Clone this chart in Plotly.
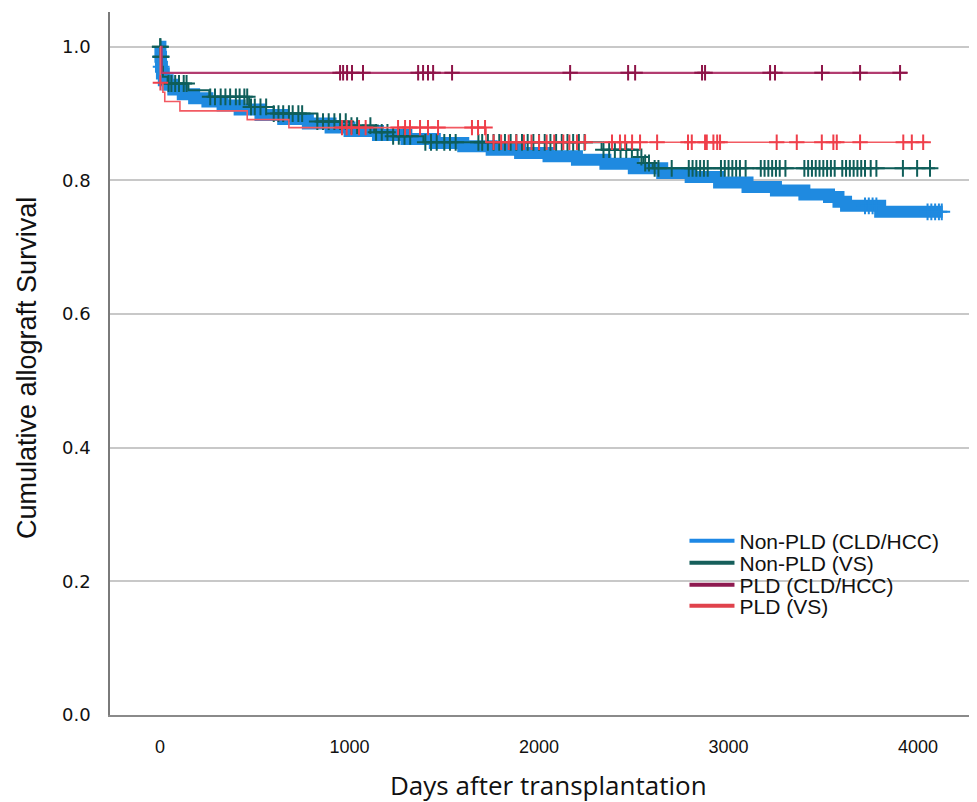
import numpy as np
import plotly.graph_objects as go

# ---------------- data ----------------
group_names = ["Non-PLD (CLD/HCC)", "Non-PLD (VS)", "PLD (CLD/HCC)", "PLD (VS)"]

# Non-PLD (CLD/HCC) – Kaplan-Meier steps
blue_t = [0, 2, 5, 10, 20, 40, 70, 120, 180, 250, 330, 420, 530, 650, 780, 900, 1000,
          1150, 1300, 1450, 1600, 1750, 1900, 2050, 2200, 2350, 2500, 2650, 2800, 2950,
          3100, 3250, 3400, 3530, 3580, 3620, 3800, 4130]
blue_s = [1.0, 0.985, 0.97, 0.96, 0.95, 0.943, 0.936, 0.929, 0.923, 0.918, 0.912, 0.906,
          0.898, 0.892, 0.885, 0.879, 0.874, 0.868, 0.862, 0.856, 0.851, 0.846, 0.841,
          0.836, 0.831, 0.825, 0.818, 0.811, 0.805, 0.797, 0.790, 0.785, 0.779, 0.775,
          0.768, 0.762, 0.753, 0.753]
blue_cens = [3, 6, 3720, 3740, 3760, 3780, 4050, 4070, 4090, 4110, 4125]

# Non-PLD (VS)
green_t = [0, 3, 8, 15, 40, 150, 260, 470, 600, 830, 1000, 1130, 1230, 1390, 2300,
           2330, 2520, 2550, 2600, 4090]
green_s = [1.0, 0.985, 0.97, 0.955, 0.945, 0.935, 0.925, 0.91, 0.90, 0.888, 0.882, 0.872,
           0.866, 0.857, 0.857, 0.846, 0.835, 0.826, 0.818, 0.818]
green_cens = [1, 2, 4, 6, 45, 60, 80, 100, 125, 140, 265, 290, 320, 345, 370, 400, 420,
              445, 460, 480, 500, 530, 560, 600, 625, 650, 680, 700, 730, 750, 830, 860,
              890, 920, 950, 980, 1010, 1040, 1110, 1140, 1170, 1200, 1230, 1260, 1290,
              1320, 1400, 1430, 1460, 1500, 1530, 1560, 1680, 1700, 1730, 1760, 1790,
              1820, 1850, 1880, 1910, 1940, 1970, 2000, 2030, 2060, 2090, 2120, 2150,
              2180, 2210, 2240, 2340, 2370, 2400, 2430, 2460, 2490, 2540, 2560, 2580,
              2610, 2630, 2700, 2790, 2810, 2830, 2850, 2870, 2890, 2960, 2980, 3000,
              3020, 3040, 3060, 3090, 3170, 3190, 3210, 3230, 3250, 3270, 3300, 3400,
              3420, 3440, 3460, 3480, 3500, 3520, 3540, 3560, 3600, 3620, 3640, 3660,
              3680, 3700, 3720, 3750, 3780, 3920, 3995, 4063]

# PLD (CLD/HCC)
maroon_t = [0, 8, 3942]
maroon_s = [1.0, 0.961, 0.961]
maroon_cens = [950, 966, 987, 1013, 1071, 1362, 1388, 1414, 1441, 1541, 2164, 2470, 2507,
               2860, 2876, 3219, 3245, 3493, 3694, 3905]

# PLD (VS)
red_t = [0, 1, 15, 25, 105, 460, 680, 1720, 4050]
red_s = [1.0, 0.946, 0.932, 0.918, 0.904, 0.891, 0.879, 0.857, 0.857]
red_cens = [2, 960, 985, 1010, 1050, 1085, 1256, 1293, 1319, 1372, 1414, 1467, 1646,
            1678, 1715, 1760, 1800, 1840, 1880, 1920, 1960, 2000, 2040, 2080, 2128, 2160,
            2200, 2243, 2385, 2427, 2454, 2491, 2533, 2623, 2786, 2806, 2876, 2885, 2920,
            2940, 2955, 3254, 3360, 3492, 3553, 3571, 3694, 3922, 3967, 4027]

x_ticks = [0, 1000, 2000, 3000, 4000]
y_ticks = [0.0, 0.2, 0.4, 0.6, 0.8, 1.0]
y_tick_text = ["0.0", "0.2", "0.4", "0.6", "0.8", "1.0"]
x_title = "Days after transplantation"
y_title = "Cumulative allograft Survival"

# ---------------- styles ----------------
line_cols = ["#1f8ae0", "#0f5e5a", "#b23c70", "#f25a62"]
mark_cols = ["#1f8ae0", "#0f5e5a", "#8e1549", "#ef3f4a"]
leg_cols = ["#1e88e5", "#165f5b", "#8e1a50", "#e0424c"]
line_w = [12, 2, 2.2, 1.6]
leg_rows = [0.2475, 0.2162, 0.1849, 0.155]
leg_ids = ["legend", "legend2", "legend3", "legend4"]

# page body has an 8 px margin: figure is shrunk so the plot lands where the reference has it
PAGE_OFF = 8
PLOT_L, PLOT_R, PLOT_T, PLOT_B = 110, 970, 12, 715   # plot area in screenshot pixels
FIG_W, FIG_H = 977 - PAGE_OFF, 802 - PAGE_OFF
PW, PH = PLOT_R - PLOT_L, PLOT_B - PLOT_T


def at(tt, ss, c):
    tt = np.asarray(tt)
    ss = np.asarray(ss)
    idx = np.searchsorted(tt, np.asarray(c), side="right") - 1
    return ss[idx]


fig = go.Figure()
series = [(blue_t, blue_s, blue_cens), (green_t, green_s, green_cens),
          (maroon_t, maroon_s, maroon_cens), (red_t, red_s, red_cens)]

for i, (t, s, c) in enumerate(series):
    fig.add_trace(go.Scatter(x=t, y=s, mode="lines", line=dict(color=line_cols[i], width=line_w[i], shape="hv"),
                             showlegend=False, hoverinfo="skip"))
    fig.add_trace(go.Scatter(x=c, y=at(t, s, c), mode="markers",
                             marker=dict(symbol="cross-thin", size=12 if i < 2 else 11,
                                         line=dict(color=mark_cols[i], width=2)),
                             showlegend=False, hoverinfo="skip"))

for i, name in enumerate(group_names):
    fig.add_trace(go.Scatter(x=[None], y=[None], mode="lines", name=name, legend=leg_ids[i],
                             line=dict(color=leg_cols[i], width=4)))

fig.add_shape(type="rect", xref="paper", yref="y", x0=(598 - PLOT_L) / PW, x1=1.0, y0=0.12, y1=0.28,
              fillcolor="white", line=dict(width=0), layer="between")

leg_common = dict(x=0.668, xanchor="left", yanchor="middle", bgcolor="rgba(255,255,255,0)",
                  font=dict(size=21, family="Liberation Sans, Arial", color="#111"), itemwidth=45)
legends = {}
for i, lid in enumerate(leg_ids):
    legends[lid] = dict(leg_common, y=leg_rows[i])

fig.update_layout(
    width=FIG_W, height=FIG_H,
    margin=dict(l=PLOT_L - PAGE_OFF, r=977 - PLOT_R, t=PLOT_T - PAGE_OFF, b=802 - PLOT_B),
    paper_bgcolor="white", plot_bgcolor="white",
    font=dict(family="Liberation Sans, Arial, sans-serif", color="#111111"),
    xaxis=dict(range=[-264, 4274], tickvals=x_ticks, ticktext=[str(v) for v in x_ticks],
               showgrid=False, zeroline=False, showline=True, linecolor="#8a8a8a", linewidth=1.5,
               ticks="", ticklabelstandoff=15, automargin=False,
               tickfont=dict(family="Liberation Sans, Arial", size=18, color="#111")),
    yaxis=dict(range=[0, 1.052], tickvals=y_ticks, ticktext=y_tick_text,
               showgrid=True, gridcolor="#c8c8c8", gridwidth=2, zeroline=False, automargin=False,
               showline=True, linecolor="#7a7a7a", linewidth=1.5, ticks="", ticklabelstandoff=14,
               tickfont=dict(family="DejaVu Sans, sans-serif", size=18, color="#111")),
    annotations=[
        dict(text=x_title, xref="paper", yref="paper", x=(548 - PLOT_L) / PW, y=-(785 - PLOT_B) / PH,
             xanchor="center", yanchor="middle", showarrow=False,
             font=dict(family="Open Sans, sans-serif", size=26, color="#111")),
        dict(text=y_title, xref="paper", yref="paper", x=(27 - PLOT_L) / PW, y=(PLOT_B - 368) / PH,
             xanchor="center", yanchor="middle", showarrow=False, textangle=-90,
             font=dict(family="Liberation Sans, Arial", size=27, color="#111")),
    ],
    **legends,
)

fig.write_html("out.html")
